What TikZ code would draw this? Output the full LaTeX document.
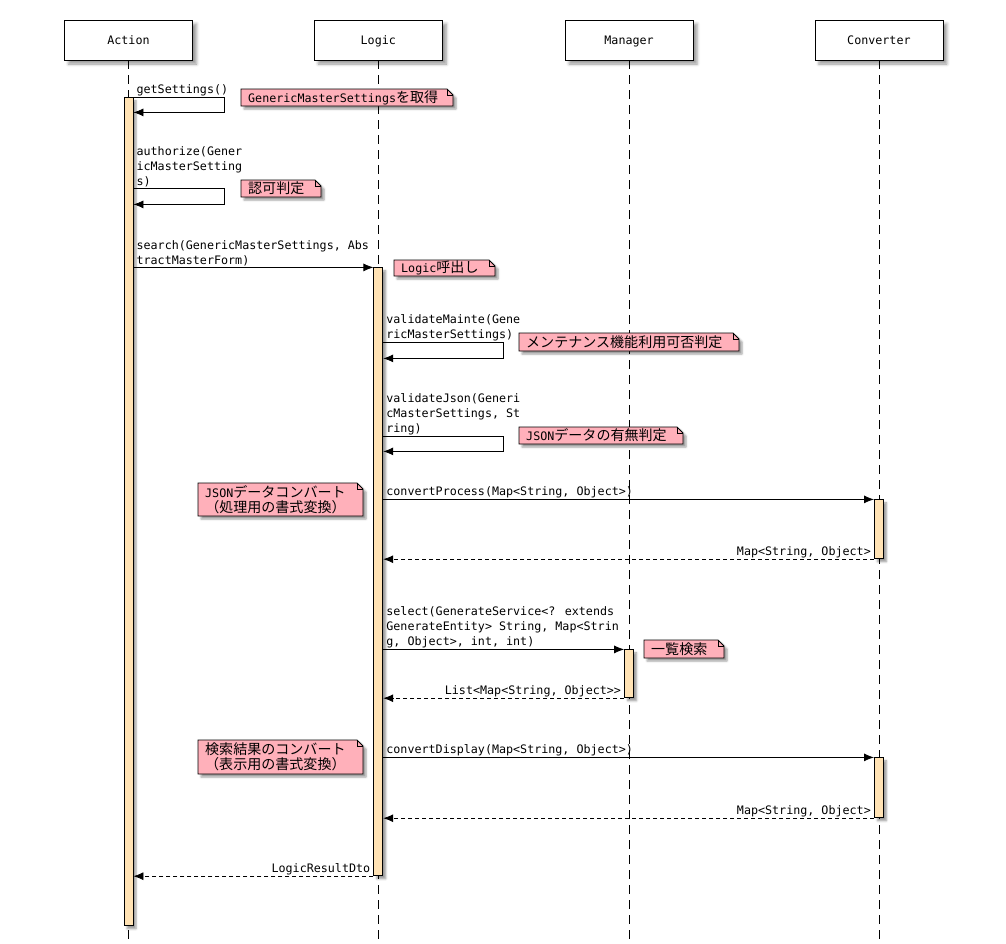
\documentclass[tikz,border=0pt]{standalone}
\usepackage{fontspec}
\setmainfont{DejaVu Sans Mono}
\newfontfamily\jp{Noto Sans CJK JP}[Scale=1.2]
\usepackage{xcolor}
\usetikzlibrary{calc}
\usetikzlibrary{positioning}
\usetikzlibrary{arrows.meta}
\usetikzlibrary{shadows.blur}

\definecolor{notepink}{RGB}{255,176,186}
\definecolor{actfill}{RGB}{255,226,180}

% note with folded corner: name, x1, y1, x2, y2, text
\newcommand{\notebox}[6]{%
	\fill[notepink, blur shadow={shadow xshift=3pt, shadow yshift=-3pt, shadow blur radius=2pt}] (#2,#3) -- (#4-6,#3) -- (#4,#3+6) -- (#4,#5) -- (#2,#5) -- cycle;
	\draw[line width=0.8pt] (#2,#3) -- (#4-6,#3) -- (#4,#3+6) -- (#4,#5) -- (#2,#5) -- cycle;
	\draw[line width=0.8pt] (#4-6,#3) -- (#4-6,#3+6) -- (#4,#3+6);
	\node[anchor=west, align=center, inner sep=0pt] (#1) at (#2+7,{(#3+#5)/2}) {#6};
}

\begin{document}
\begin{tikzpicture}[x=1pt,y=-1pt,font=\fontsize{11.7}{15}\selectfont]
		\tikzstyle{actor} = [draw, line width=0.8pt, fill=white, minimum width=128pt, minimum height=40pt, text depth=-2pt, blur shadow={shadow xshift=4pt, shadow yshift=-4pt, shadow blur radius=3pt}]
		\tikzstyle{instance} = [draw, line width=0.8pt, dash pattern=on 9pt off 6pt]
		\tikzstyle{activation} = [draw, line width=0.8pt, fill=actfill, minimum width=9pt, inner sep=0pt, anchor=north, blur shadow={shadow xshift=3pt, shadow yshift=-3pt, shadow blur radius=2pt}]
		\tikzstyle{message} = [draw, line width=0.8pt, -{Latex[length=10pt,width=8pt]}]
		\tikzstyle{reply} = [message, dash pattern=on 4pt off 3pt]
		\tikzstyle{call} = [anchor=south west, align=left, inner xsep=3pt, inner ysep=1pt]
		\tikzstyle{result} = [anchor=south east, inner xsep=3pt, inner ysep=1pt]

		\useasboundingbox (0,0) rectangle (1006,943);

		\node[actor] (Action) at (128.5,40) {Action};
		\node[actor, right=121pt of Action] (Logic) {Logic};
		\node[actor, right=122pt of Logic] (Manager) {Manager};
		\node[actor, right=121pt of Manager] (Converter) {Converter};

		\draw[instance] (Action.south) -- ++(0,883);
		\draw[instance] (Logic.south) -- ++(0,883);
		\draw[instance] (Manager.south) -- ++(0,883);
		\draw[instance] (Converter.south) -- ++(0,883);

		\node[activation, minimum height=828pt] (ActAction) at ($(Action.south)+(0,37)$) {};
		\node[activation, minimum height=608pt] (ActLogic) at ($(Logic.south)+(0,207)$) {};
		\node[activation, minimum height=59pt] (ActConv1) at ($(Converter.south)+(0,439)$) {};
		\node[activation, minimum height=48pt] (ActManager) at ($(Manager.south)+(0,589)$) {};
		\node[activation, minimum height=60pt] (ActConv2) at ($(Converter.south)+(0,697)$) {};

		\coordinate (mGet) at (ActAction.north east);
		\coordinate (mAuth) at ($(ActAction.north east)+(0,91)$);
		\coordinate (mMainte) at ($(ActLogic.north east)+(0,75)$);
		\coordinate (mJson) at ($(ActLogic.north east)+(0,169)$);

		\draw[message] (mGet) -- ++(91,0) -- ++(0,15) -- ++(-91,0);
		\node[call] (lGet) at (mGet) {getSettings()};
		\draw[message] (mAuth) -- ++(91,0) -- ++(0,16) -- ++(-91,0);
		\node[call] (lAuth) at (mAuth) {authorize(Gener\\icMasterSetting\\s)};

		\draw[message] (ActAction.east |- ActLogic.north) -- (ActLogic.north west);
		\node[call] (lSearch) at (ActAction.east |- ActLogic.north) {search(GenericMasterSettings, Abs\\tractMasterForm)};

		\draw[message] (mMainte) -- ++(120,0) -- ++(0,16) -- ++(-120,0);
		\node[call] (lMainte) at (mMainte) {validateMainte(Gene\\ricMasterSettings)};
		\draw[message] (mJson) -- ++(120,0) -- ++(0,15) -- ++(-120,0);
		\node[call] (lJson) at (mJson) {validateJson(Generi\\cMasterSettings, St\\ring)};

		\draw[message] (ActLogic.east |- ActConv1.north) -- (ActConv1.north west);
		\node[call] (lProcess) at (ActLogic.east |- ActConv1.north) {convertProcess(Map<String, Object>)};
		\draw[reply] (ActConv1.south west) -- (ActLogic.east |- ActConv1.south);
		\node[result] (rProcess) at (ActConv1.south west) {Map<String, Object>};

		\draw[message] (ActLogic.east |- ActManager.north) -- (ActManager.north west);
		\node[call] (lSelect) at (ActLogic.east |- ActManager.north) {select(GenerateService<? extends\\GenerateEntity> String, Map<Strin\\g, Object>, int, int)};
		\draw[reply] (ActManager.south west) -- (ActLogic.east |- ActManager.south);
		\node[result] (rSelect) at (ActManager.south west) {List<Map<String, Object>{}>};

		\draw[message] (ActLogic.east |- ActConv2.north) -- (ActConv2.north west);
		\node[call] (lDisplay) at (ActLogic.east |- ActConv2.north) {convertDisplay(Map<String, Object>)};
		\draw[reply] (ActConv2.south west) -- (ActLogic.east |- ActConv2.south);
		\node[result] (rDisplay) at (ActConv2.south west) {Map<String, Object>};

		\draw[reply] (ActLogic.south west) -- (ActAction.east |- ActLogic.south);
		\node[result] (rLogic) at (ActLogic.south west) {LogicResultDto};

		\notebox{nGet}{241}{89}{453}{106}{GenericMasterSettings{\jp を取得}}
		\notebox{nAuth}{241}{180}{321}{197}{{\jp 認可判定}}
		\notebox{nLogic}{394}{260}{495}{276}{Logic{\jp 呼出し}}
		\notebox{nMainte}{519}{333}{739}{351}{{\jp メンテナンス機能利用可否判定}}
		\notebox{nJson}{519}{427}{683}{444}{JSON{\jp データの有無判定}}
		\notebox{nProcess}{198}{483}{363}{516}{JSON{\jp データコンバート}\\{\jp （処理用の書式変換）}}
		\notebox{nSelect}{644}{640}{724}{658}{{\jp 一覧検索}}
		\notebox{nDisplay}{198}{740}{363}{774}{{\jp 検索結果のコンバート}\\{\jp （表示用の書式変換）}}

	\end{tikzpicture}
\end{document}
